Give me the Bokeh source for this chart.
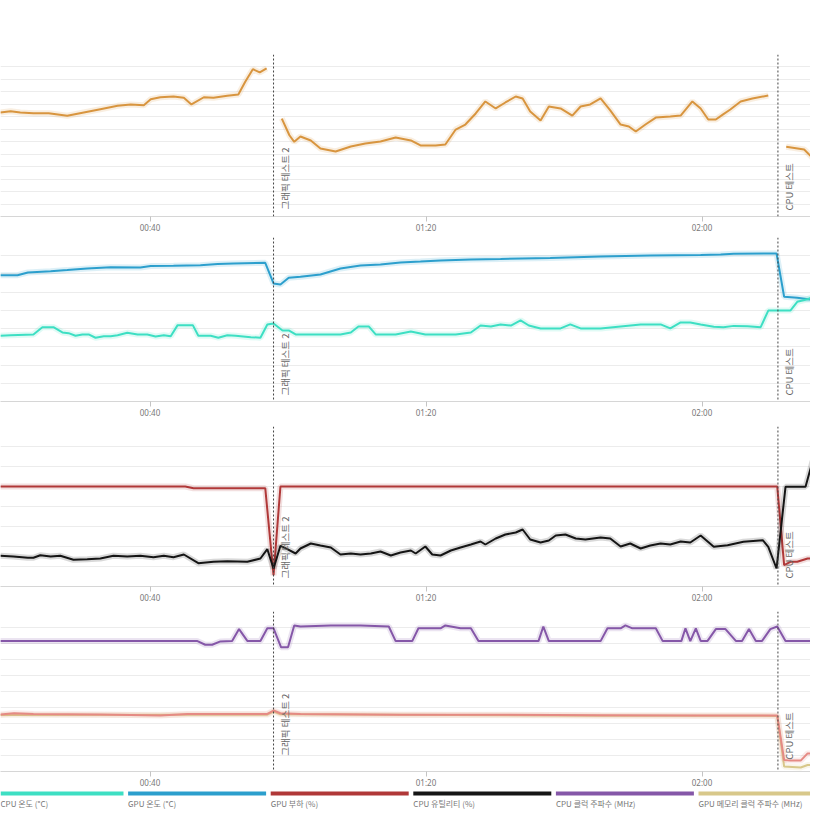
import math
from bokeh.plotting import figure
from bokeh.layouts import column
from bokeh.models import Range1d, FixedTicker, SingleIntervalTicker, Grid, Span, Label
from bokeh.embed import file_html
from bokeh.resources import INLINE
from bokeh.core.properties import value

N = None  # gap marker

# ---- shared x axis (minutes since start) ----
TICK_MINUTES = [40, 80, 120]
TICK_LABELS = ["00:40", "01:20", "02:00"]
EVENT_MINUTES = [57.9, 131.0]
EVENT_LABELS = ["그래픽 테스트 2", "CPU 테스트"]
X_START, X_END = 18.33, 135.72

# ---- panel 1 (orange series) ----
ORANGE = [(18.3, 83.5), (19.8, 84.5), (21.2, 83.5), (23.1, 82.9), (25.3, 82.9), (28.0, 80.8),
          (30.4, 83.5), (32.8, 86.1), (35.3, 88.8), (37.2, 89.9), (39.1, 89.3), (40.1, 94.1),
          (41.5, 95.7), (43.4, 96.3), (44.9, 95.3), (46.0, 89.9), (47.8, 95.7), (49.2, 95.3),
          (51.2, 96.9), (52.8, 97.9), (53.8, 108.1), (54.9, 118.2), (55.9, 115.6), (56.9, 118.8), N,
          (59.1, 78.6), (60.2, 65.2), (60.9, 59.9), (61.8, 64.2), (63.3, 61.0), (64.7, 54.6),
          (66.9, 52.2), (69.1, 56.2), (71.2, 58.6), (73.4, 60.2), (75.6, 63.4), (77.8, 61.0),
          (79.2, 57.0), (81.4, 57.0), (82.8, 57.8), (84.3, 69.8), (85.7, 73.8), (87.2, 82.7),
          (88.6, 92.3), (90.1, 86.7), (91.5, 91.5), (93.0, 96.3), (94.0, 94.7), (95.1, 84.3),
          (96.6, 77.0), (97.8, 88.3), (99.5, 86.7), (101.2, 81.0), (102.4, 88.3), (103.8, 89.9),
          (105.3, 94.7), (106.7, 85.1), (108.2, 73.8), (109.4, 72.2), (110.4, 68.2), (111.8, 73.8),
          (113.3, 79.4), (115.4, 80.3), (116.9, 81.0), (118.6, 92.3), (119.8, 86.7), (120.9, 77.8),
          (122.0, 77.8), (123.0, 81.8), (124.1, 85.9), (125.6, 92.3), (127.3, 94.7), (129.6, 97.1), N,
          (132.2, 55.9), (134.8, 53.8), (136.0, 47.1), (137.9, 43.3)]

# ---- panel 2 temperatures (°C) ----
GPU_TEMP = [(18.3, 69.3), (20.8, 69.3), (22.3, 70.8), (25.6, 71.5), (28.0, 72.1), (30.9, 73.0),
            (34.3, 73.7), (38.6, 73.5), (40.1, 74.3), (43.4, 74.5), (47.3, 74.8), (49.8, 75.4),
            (52.1, 75.7), (56.7, 76.1), (57.9, 64.8), (58.9, 64.2), (60.1, 67.9), (61.8, 68.4),
            (64.7, 69.7), (67.6, 73.0), (70.5, 74.6), (73.4, 75.2), (76.3, 76.3), (79.2, 76.8),
            (82.1, 77.4), (86.5, 77.9), (90.8, 78.2), (98.0, 78.8), (105.3, 79.6), (112.5, 80.1),
            (119.8, 80.4), (122.7, 80.7), (124.6, 81.1), (130.8, 81.2), (131.9, 57.5), (133.8, 56.9),
            (135.7, 56.0), (138.0, 54.3)]
CPU_TEMP = [(18.3, 36.1), (19.8, 36.4), (23.1, 36.8), (24.4, 40.8), (26.0, 40.8), (27.3, 37.9),
            (28.2, 37.5), (29.2, 36.1), (30.2, 36.8), (31.1, 36.8), (32.1, 35.0), (33.3, 35.8),
            (34.3, 35.8), (35.3, 36.4), (36.7, 37.7), (38.2, 36.8), (39.6, 36.8), (40.8, 35.7),
            (42.0, 36.4), (43.0, 35.8), (44.0, 41.9), (46.2, 41.9), (47.0, 36.1), (48.8, 36.1),
            (49.9, 35.0), (51.2, 36.4), (52.4, 36.1), (54.6, 35.3), (56.0, 35.0), (57.0, 42.3),
            (57.9, 42.8), (59.2, 39.0), (60.1, 39.0), (61.1, 36.8), (64.7, 36.8), (67.6, 36.8),
            (69.1, 37.9), (70.2, 41.2), (71.7, 41.2), (72.7, 36.8), (75.6, 36.8), (77.8, 38.4),
            (79.9, 36.8), (84.3, 36.8), (86.5, 37.9), (87.9, 41.7), (89.4, 41.2), (90.8, 42.3),
            (92.3, 41.7), (93.7, 44.5), (94.9, 41.7), (96.6, 40.1), (99.5, 40.1), (100.9, 42.3),
            (102.4, 40.1), (105.3, 40.1), (108.2, 41.2), (111.1, 42.3), (114.0, 42.3), (115.4, 40.1),
            (116.9, 43.4), (118.3, 43.4), (119.8, 42.3), (121.7, 41.0), (123.1, 40.8), (124.6, 41.5),
            (126.6, 41.3), (128.5, 40.8), (129.6, 49.9), (130.9, 49.9), (132.8, 49.9), (133.8, 54.7),
            (135.3, 56.1), (136.7, 58.7), (138.0, 59.7)]

# ---- panel 3 load (%) ----
GPU_LOAD = [(18.3, 100), (45.1, 100), (46.3, 98.3), (56.7, 98.3), (57.9, 11.3), (58.9, 100),
            (130.9, 100), (131.9, 21.3), (132.8, 24.7), (133.8, 24.7), (135.3, 28), (136.7, 28),
            (138.0, 48)]
CPU_UTIL = [(18.3, 30.7), (20.2, 30), (22.3, 28.7), (23.1, 28.7), (24.1, 31.3), (25.6, 30),
            (27.0, 30.7), (28.9, 26.7), (30.9, 27.3), (32.8, 28), (34.7, 30.7), (36.7, 30),
            (38.6, 30.7), (40.5, 29.3), (42.0, 30.7), (43.4, 29.3), (44.9, 32), (47.0, 23.3),
            (49.2, 24.7), (51.2, 25.3), (54.1, 24.7), (56.0, 28), (57.0, 37.3), (57.9, 18),
            (58.9, 40.7), (59.9, 37.3), (61.1, 33), (61.8, 38), (63.3, 43), (64.7, 41), (66.2, 39),
            (67.6, 32), (69.1, 33), (70.5, 32), (72.0, 33), (73.4, 35), (74.9, 31), (76.3, 34),
            (77.8, 36), (78.5, 33), (79.9, 40), (80.9, 32), (82.1, 31), (83.6, 36), (85.0, 39),
            (86.5, 42), (87.9, 45), (88.6, 42), (90.1, 48), (91.5, 52), (93.0, 54), (94.0, 57),
            (95.1, 47), (96.6, 44), (97.8, 46), (98.8, 51), (100.2, 52), (101.7, 48), (103.1, 47),
            (105.3, 49), (106.7, 48), (108.2, 40), (109.6, 43), (111.1, 38), (112.5, 41), (114.0, 43),
            (115.4, 42), (116.9, 45), (118.3, 44), (119.8, 51), (121.7, 39.7), (123.7, 41.3),
            (126.0, 44.7), (128.8, 46.3), (129.6, 39.7), (130.8, 18), (132.1, 99.7), (133.3, 99.7),
            (135.0, 99.7), (136.0, 124.7), (136.9, 137.3), (138.0, 138)]

# ---- panel 4 clocks (MHz) ----
CPU_CLOCK = [(18.3, 4080), (46.8, 4080), (48.0, 3960), (49.0, 3960), (50.2, 4065), (51.9, 4080),
             (52.9, 4450), (54.1, 4080), (56.0, 4080), (57.0, 4475), (57.9, 4475), (59.0, 3880),
             (60.0, 3880), (60.9, 4560), (61.8, 4530), (66.2, 4565), (70.5, 4565), (74.6, 4530),
             (75.6, 4075), (78.0, 4075), (78.9, 4475), (82.1, 4475), (82.8, 4565), (85.0, 4475),
             (86.5, 4475), (87.6, 4075), (96.3, 4075), (97.0, 4530), (97.8, 4075), (105.3, 4075),
             (106.3, 4475), (108.2, 4475), (108.9, 4565), (109.9, 4475), (113.3, 4475), (114.3, 4075),
             (117.0, 4075), (117.6, 4475), (118.3, 4075), (119.1, 4475), (119.8, 4080), (120.8, 4080),
             (122.0, 4450), (123.4, 4450), (124.9, 4080), (125.8, 4080), (126.8, 4450), (127.8, 4080),
             (128.7, 4080), (129.9, 4450), (130.9, 4530), (132.1, 4080), (138.0, 4080)]
GPU_CLOCK = [(18.3, 1780), (20.3, 1820), (23.1, 1800), (32.8, 1780), (41.5, 1750), (45.4, 1800),
             (57.0, 1800), (57.9, 1905), (58.9, 1820), (61.8, 1800), (76.3, 1775), (90.8, 1775),
             (105.3, 1760), (119.8, 1750), (130.9, 1750), (131.9, 360), (132.8, 340), (134.3, 340),
             (135.3, 565), (138.0, 565)]
GPU_MEM_CLOCK = [(18.3, 1765), (45.4, 1775), (57.0, 1775), (57.9, 1870), (58.9, 1790), (105.3, 1745),
                 (130.9, 1738), (131.9, 155), (134.3, 125), (135.3, 205), (138.0, 205)]

# ---- legend ----
LEGEND_LABELS = ["CPU 온도 (°C)", "GPU 온도 (°C)", "GPU 부하 (%)", "CPU 유틸리티 (%)",
                 "CPU 클럭 주파수 (MHz)", "GPU 메모리 클럭 주파수 (MHz)"]

C_ORANGE = "#D8953F"
C_BLUE = "#2C9FCD"
C_TEAL = "#3DDFC3"
C_RED = "#B03838"
C_BLACK = "#151515"
C_PURPLE = "#8557A8"
C_PINK = "#E58A84"
C_TAN = "#D8C88A"
LEGEND_COLORS = [C_TEAL, C_BLUE, C_RED, C_BLACK, C_PURPLE, C_TAN]

FONT = "Noto Sans CJK KR"
W = 810
xr = Range1d(X_START, X_END)


def split(pairs):
    xs, ys = [], []
    for p in pairs:
        if p is None:
            xs.append(float("nan")); ys.append(float("nan"))
        else:
            xs.append(p[0]); ys.append(p[1])
    return xs, ys


def panel(y_lo, y_hi, y_step, frame_h, top, bottom, label_offsets):
    p = figure(width=W, height=top + frame_h + bottom, x_range=xr,
               y_range=Range1d(y_lo, y_hi), output_backend="svg",
               toolbar_location=None, y_axis_location=None,
               min_border_left=0, min_border_right=0,
               min_border_top=top, min_border_bottom=bottom)
    p.outline_line_color = None
    p.background_fill_color = "white"
    p.border_fill_color = "white"
    p.xgrid.visible = False
    p.ygrid.visible = False
    p.add_layout(Grid(dimension=1, ticker=SingleIntervalTicker(interval=y_step),
                      grid_line_color="#ececec", grid_line_width=1))
    ax = p.xaxis[0]
    ax.ticker = FixedTicker(ticks=TICK_MINUTES)
    ax.major_label_overrides = dict(zip(TICK_MINUTES, TICK_LABELS))
    ax.axis_line_color = "#d6d6d6"
    ax.major_tick_line_color = "#c4c4c4"
    ax.major_tick_in = 0
    ax.major_tick_out = 5
    ax.minor_tick_line_color = None
    ax.major_label_standoff = 0
    ax.major_label_text_font = "Noto Sans"
    ax.major_label_text_font_size = "8px"
    ax.major_label_text_color = "#777777"
    for t, lab, off in zip(EVENT_MINUTES, EVENT_LABELS, label_offsets):
        p.add_layout(Span(location=t, dimension="height", line_color="#444444",
                          line_dash="2 2", line_width=1))
        p.add_layout(Label(x=t, y=y_lo + off * (y_hi - y_lo) / frame_h, x_offset=4,
                           text=lab, angle=math.pi / 2, text_font=FONT,
                           text_font_size="9.5px", text_color="#666666",
                           text_baseline="top", text_align="left"))
    return p


def draw(p, pairs, color, width=2):
    xs, ys = split(pairs)
    p.line(xs, ys, line_color=color, line_width=6, line_alpha=0.16)
    p.line(xs, ys, line_color=color, line_width=width)


p1 = panel(0, 130, 10, 162, 54, 21, [7, 6])
draw(p1, ORANGE, C_ORANGE)

p2 = panel(0, 90, 10, 164, 0, 25, [6, 6])
draw(p2, GPU_TEMP, C_BLUE)
draw(p2, CPU_TEMP, C_TEAL)

p3 = panel(0, 160, 20, 160, 0, 25, [8, 8])
draw(p3, GPU_LOAD, C_RED)
draw(p3, CPU_UTIL, C_BLACK)

p4 = panel(0, 5000, 500, 162, 0, 17, [16, 12])
draw(p4, CPU_CLOCK, C_PURPLE)
draw(p4, GPU_MEM_CLOCK, C_TAN)
draw(p4, GPU_CLOCK, C_PINK)

# legend strip (fills the rest of the 810 px column)
LH = 810 - (54 + 162 + 21) - (164 + 25) - (160 + 25) - (162 + 17)
leg = figure(width=W, height=LH, x_range=Range1d(0, W), y_range=Range1d(0, LH),
             output_backend="svg", toolbar_location=None,
             x_axis_location=None, y_axis_location=None, min_border=0)
leg.outline_line_color = None
leg.grid.visible = False
step = 142.6
lefts = [max(0.0, -15 + step * i) for i in range(len(LEGEND_LABELS))]
rights = [min(float(W), -15 + step * i + 138) for i in range(len(LEGEND_LABELS))]
leg.quad(left=lefts, right=rights, top=[LH - 1] * 6, bottom=[LH - 5] * 6,
         fill_color=LEGEND_COLORS, line_color=None)
leg.text(x=lefts, y=[LH - 7] * 6, text=LEGEND_LABELS, text_font=value(FONT),
         text_font_size=value("8px"), text_color="#777777", text_baseline="top")

layout = column(p1, p2, p3, p4, leg)
open("out.html", "w").write(file_html(layout, INLINE))
